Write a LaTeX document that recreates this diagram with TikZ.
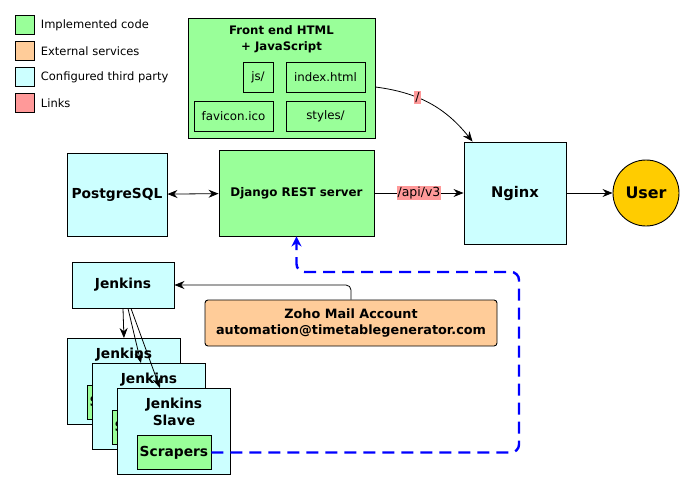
\documentclass[tikz,border=0pt]{standalone}
\usepackage{fontspec}
\setmainfont{DejaVu Sans}
\usetikzlibrary{arrows.meta,positioning}

\definecolor{implgreen}{HTML}{99FF99}
\definecolor{extorange}{HTML}{FFCC99}
\definecolor{thirdcyan}{HTML}{CCFFFF}
\definecolor{linkpink}{HTML}{FF9999}
\definecolor{useryellow}{HTML}{FFCC00}

\begin{document}
\begin{tikzpicture}[x=1pt,y=-1pt,>={Stealth[length=10pt,width=8pt]},
	every node/.style={line width=0.9pt},
	box/.style={draw,inner sep=0pt,align=center,font=\bfseries\fontsize{13.8}{17}\selectfont},
	impl/.style={box,fill=implgreen},
	extern/.style={box,fill=extorange,rounded corners=3pt},
	thirdparty/.style={box,fill=thirdcyan},
	small/.style={draw,fill=implgreen,inner sep=0pt,font=\fontsize{11.8}{14}\selectfont},
	legsq/.style={draw,minimum size=19pt,inner sep=0pt},
	legtext/.style={right=6pt of #1,inner sep=0pt,font=\fontsize{11.5}{14}\selectfont},
	linklabel/.style={fill=linkpink,inner sep=1pt,font=\fontsize{12.5}{15}\selectfont},
	conn/.style={line width=0.8pt}]

	\useasboundingbox (0,0) rectangle (695,490);

		% Legend
		\node[legsq,fill=implgreen]  (legimpl)   at (24.5,25) {};
		\node[legsq,fill=extorange]  (legext)    at (24.5,51) {};
		\node[legsq,fill=thirdcyan]  (legthird)  at (24.5,77) {};
		\node[legsq,fill=linkpink]   (leglinks)  at (24.5,103) {};
		\node[legtext=legimpl]  (legimpltxt)  {Implemented code};
		\node[legtext=legext]   (legexttxt)   {External services};
		\node[legtext=legthird] (legthirdtxt) {Configured third party};
		\node[legtext=leglinks] (leglinkstxt) {Links};

		% Front end
		\node[impl,minimum width=187pt,minimum height=120pt] (frontend) at (281.5,78) {};
		\node[font=\bfseries\fontsize{11.7}{16}\selectfont,align=center,inner sep=0pt] (fronttitle) at (281.5,39) {Front end HTML\\+ JavaScript};
		\node[small,minimum width=30pt,minimum height=30pt] (js) at (258,77) {js/};
		\node[small,minimum width=79pt,minimum height=30pt] (index) at (325.5,77) {index.html};
		\node[small,minimum width=79pt,minimum height=30pt] (favicon) at (233.5,116) {favicon.ico};
		\node[small,minimum width=79pt,minimum height=30pt] (styles) at (325.5,116) {styles/};

		% Servers
		\node[thirdparty,minimum width=100pt,minimum height=83pt] (postgres) at (117,194.5) {PostgreSQL};
		\node[impl,minimum width=155pt,minimum height=86pt,font=\bfseries\fontsize{11.9}{14}\selectfont] (django) at (296.5,193) {Django REST server};
		\node[thirdparty,minimum width=102pt,minimum height=102pt,font=\bfseries\fontsize{14.7}{17}\selectfont] (nginx) at (515,193) {Nginx};
		\node[circle,draw,fill=useryellow,minimum size=66pt,inner sep=0pt,font=\bfseries\fontsize{15.9}{18}\selectfont] (user) at (646,193) {User};

		% Jenkins
		\node[thirdparty,minimum width=102pt,minimum height=46pt] (jenkins) at (123,285) {Jenkins};
		\node[extern,minimum width=292pt,minimum height=46pt,font=\bfseries\fontsize{12.8}{16}\selectfont] (zoho) at (351,323) {Zoho Mail Account\\automation@timetablegenerator.com};
		\foreach \i/\x/\y in {0/67/338,1/92/363,2/117/388} {
			\node[thirdparty,minimum width=113pt,minimum height=86pt,anchor=north west] (slave\i) at (\x,\y) {};
			\node[box,draw=none,below=10pt of slave\i.north] (slavetitle\i) {Jenkins\\Slave};
			\node[impl,minimum width=74pt,minimum height=34pt,above=5pt of slave\i.south] (scrapers\i) {Scrapers};
		}

		% Connectors
		\draw[conn,->] ([yshift=-9pt]frontend.east) to[bend left=22] node[linklabel,pos=0.37] (slashlbl) {/} ([xshift=9pt]nginx.north west);
		\draw[conn,<->] (postgres) -- (django);
		\draw[conn,->] (django) -- node[linklabel] (apilbl) {/api/v3} (nginx);
		\draw[conn,->] (nginx) -- (user);
		\draw[conn,->,rounded corners=5pt] (zoho.north) |- (jenkins.east);
		\draw[conn,->] (jenkins.south) -- (slave0.north);
		\draw[conn,->] ([xshift=5pt]jenkins.south) -- ([xshift=-8pt]slave1.north);
		\draw[conn,->] ([xshift=8pt]jenkins.south) -- ([xshift=-14pt]slave2.north);
		\coordinate (loopcorner) at (519,272);
		\draw[blue,line width=2.4pt,dash pattern=on 12pt off 7pt,rounded corners=8pt,-{Stealth[length=10pt,width=10pt]}]
			(scrapers2.east) -| (loopcorner) -| (django.south);

	\end{tikzpicture}
\end{document}
